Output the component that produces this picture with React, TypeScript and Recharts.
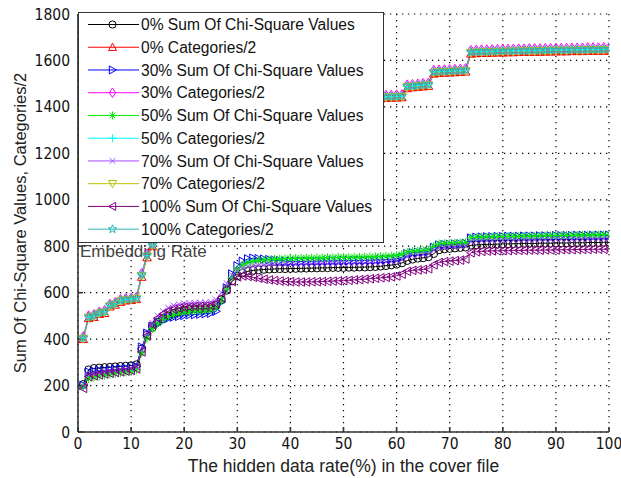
import React from 'react';
import { LineChart, Line, XAxis, YAxis, CartesianGrid, Legend, Label } from 'recharts';

// hidden data rate (%) in the cover file
const hiddenRate = [
  1, 2, 3, 4, 5, 6, 7, 8, 9, 10, 11, 12, 13, 14, 15, 16, 17, 18, 19, 20,
  21, 22, 23, 24, 25, 26, 27, 28, 29, 30, 31, 32, 33, 34, 35, 36, 37, 38, 39, 40,
  41, 42, 43, 44, 45, 46, 47, 48, 49, 50, 51, 52, 53, 54, 55, 56, 57, 58, 59, 60,
  61, 62, 63, 64, 65, 66, 67, 68, 69, 70, 71, 72, 73, 74, 75, 76, 77, 78, 79, 80,
  81, 82, 83, 84, 85, 86, 87, 88, 89, 90, 91, 92, 93, 94, 95, 96, 97, 98, 99, 100,
];

const sumChi0 = [
  205, 268, 274, 276, 278, 279, 281, 283, 284, 286, 290, 358, 418, 450, 472, 488, 500, 510, 518, 525,
  528, 530, 531, 532, 535, 545, 570, 610, 650, 672, 685, 692, 696, 698, 700, 701, 702, 703, 703, 704,
  704, 705, 705, 706, 706, 707, 707, 708, 708, 708, 709, 709, 710, 710, 711, 712, 714, 716, 719, 722,
  728, 738, 744, 748, 750, 754, 768, 784, 788, 790, 792, 794, 796, 804, 806, 807, 808, 808, 809, 810,
  810, 811, 811, 812, 812, 812, 813, 813, 813, 814, 814, 814, 815, 815, 815, 816, 816, 816, 817, 817,
];
const cat0 = [
  400, 490, 495, 508, 512, 540, 548, 560, 566, 568, 572, 668, 752, 800, 836, 874, 914, 952, 984, 1012,
  1032, 1038, 1044, 1050, 1058, 1070, 1114, 1194, 1274, 1316, 1344, 1362, 1376, 1384, 1389, 1392, 1395, 1397, 1399, 1401,
  1403, 1405, 1406, 1408, 1409, 1411, 1412, 1414, 1415, 1417, 1418, 1420, 1421, 1423, 1424, 1426, 1436, 1438, 1439, 1440,
  1441, 1480, 1484, 1486, 1488, 1490, 1543, 1546, 1547, 1548, 1549, 1550, 1552, 1629, 1631, 1632, 1632, 1633, 1634, 1634,
  1635, 1635, 1636, 1636, 1637, 1637, 1637, 1638, 1638, 1639, 1639, 1639, 1640, 1640, 1640, 1641, 1641, 1641, 1642, 1642,
];
const sumChi30 = [
  200, 258, 262, 264, 266, 268, 270, 272, 274, 276, 282, 365, 425, 455, 470, 480, 490, 495, 498, 502,
  505, 506, 508, 510, 512, 520, 560, 620, 680, 715, 735, 745, 748, 746, 744, 742, 740, 738, 736, 735,
  734, 734, 735, 735, 736, 736, 736, 737, 737, 738, 738, 738, 739, 739, 740, 740, 741, 742, 744, 746,
  752, 768, 772, 774, 775, 777, 795, 805, 807, 808, 809, 810, 812, 835, 838, 839, 840, 840, 841, 841,
  842, 842, 842, 843, 843, 843, 844, 844, 844, 845, 845, 845, 845, 846, 846, 846, 846, 847, 847, 847,
];
const cat30 = [
  410, 500, 505, 516, 522, 550, 556, 570, 574, 576, 580, 682, 766, 810, 845, 882, 922, 960, 992, 1020,
  1040, 1046, 1052, 1058, 1066, 1080, 1126, 1206, 1286, 1325, 1352, 1370, 1384, 1392, 1397, 1400, 1403, 1405, 1407, 1409,
  1411, 1413, 1414, 1416, 1417, 1419, 1420, 1422, 1423, 1425, 1426, 1428, 1429, 1431, 1432, 1434, 1448, 1449, 1450, 1451,
  1452, 1494, 1496, 1498, 1500, 1502, 1557, 1558, 1559, 1560, 1561, 1562, 1564, 1643, 1644, 1645, 1645, 1646, 1647, 1647,
  1648, 1648, 1649, 1649, 1650, 1650, 1650, 1651, 1651, 1652, 1652, 1652, 1653, 1653, 1653, 1654, 1654, 1654, 1655, 1655,
];
const sumChi50 = [
  195, 230, 236, 240, 244, 248, 252, 255, 258, 262, 268, 340, 405, 445, 468, 485, 498, 506, 512, 516,
  518, 520, 522, 524, 526, 536, 565, 615, 665, 700, 718, 728, 734, 738, 740, 742, 744, 745, 746, 747,
  748, 748, 749, 749, 750, 750, 751, 751, 752, 752, 752, 753, 753, 754, 754, 755, 756, 757, 758, 760,
  765, 774, 778, 780, 782, 784, 800, 810, 812, 813, 814, 815, 816, 836, 838, 839, 840, 840, 841, 841,
  842, 842, 843, 843, 843, 844, 844, 845, 845, 846, 846, 846, 847, 847, 848, 848, 848, 849, 849, 850,
];
const cat50 = [
  405, 495, 500, 512, 518, 545, 552, 566, 570, 572, 576, 676, 760, 805, 840, 878, 918, 956, 988, 1016,
  1036, 1042, 1048, 1054, 1062, 1075, 1120, 1200, 1280, 1320, 1348, 1366, 1380, 1388, 1393, 1396, 1399, 1401, 1403, 1405,
  1407, 1409, 1410, 1412, 1413, 1415, 1416, 1418, 1419, 1421, 1422, 1424, 1425, 1427, 1428, 1430, 1442, 1443, 1444, 1445,
  1446, 1488, 1490, 1492, 1494, 1496, 1550, 1552, 1553, 1554, 1555, 1556, 1558, 1636, 1637, 1638, 1638, 1639, 1640, 1640,
  1641, 1641, 1642, 1642, 1643, 1643, 1643, 1644, 1644, 1645, 1645, 1645, 1646, 1646, 1646, 1647, 1647, 1647, 1648, 1648,
];
const sumChi70 = [
  198, 245, 250, 254, 258, 261, 264, 267, 270, 273, 280, 355, 425, 470, 500, 520, 535, 545, 550, 553,
  555, 556, 557, 558, 560, 570, 600, 640, 675, 695, 705, 712, 716, 718, 719, 720, 721, 721, 722, 722,
  723, 723, 724, 724, 725, 725, 725, 726, 726, 726, 727, 727, 727, 728, 728, 729, 730, 732, 734, 736,
  742, 756, 760, 762, 764, 766, 782, 794, 796, 798, 799, 800, 802, 820, 822, 823, 824, 824, 825, 825,
  826, 826, 826, 827, 827, 827, 828, 828, 828, 829, 829, 829, 829, 830, 830, 830, 831, 831, 831, 832,
];
const cat70 = [
  402, 493, 497, 510, 515, 542, 550, 563, 568, 570, 574, 672, 756, 803, 838, 876, 916, 954, 986, 1014,
  1034, 1040, 1046, 1052, 1060, 1072, 1117, 1197, 1277, 1318, 1346, 1364, 1378, 1386, 1391, 1394, 1397, 1399, 1401, 1403,
  1405, 1407, 1408, 1410, 1411, 1413, 1414, 1416, 1417, 1419, 1420, 1422, 1423, 1425, 1426, 1428, 1439, 1440, 1441, 1442,
  1443, 1485, 1487, 1489, 1491, 1493, 1547, 1549, 1550, 1551, 1552, 1553, 1555, 1633, 1634, 1635, 1635, 1636, 1637, 1637,
  1638, 1638, 1639, 1639, 1640, 1640, 1640, 1641, 1641, 1642, 1642, 1642, 1643, 1643, 1643, 1644, 1644, 1644, 1645, 1645,
];
const sumChi100 = [
  188, 238, 242, 246, 250, 253, 256, 259, 262, 265, 272, 345, 415, 462, 490, 508, 520, 528, 533, 536,
  538, 540, 541, 542, 544, 552, 578, 615, 648, 668, 672, 670, 666, 662, 658, 655, 652, 650, 648, 647,
  646, 646, 646, 647, 647, 648, 649, 650, 651, 652, 653, 655, 656, 658, 660, 662, 664, 666, 668, 672,
  680, 692, 696, 698, 700, 703, 720, 730, 734, 736, 738, 740, 745, 772, 776, 778, 779, 780, 780, 781,
  781, 782, 782, 782, 783, 783, 783, 784, 784, 784, 785, 785, 785, 786, 786, 786, 787, 787, 787, 788,
];
const cat100 = [
  406, 496, 501, 513, 519, 546, 553, 567, 571, 573, 577, 678, 762, 806, 842, 880, 920, 958, 990, 1018,
  1038, 1044, 1050, 1056, 1064, 1077, 1122, 1202, 1282, 1322, 1350, 1368, 1382, 1390, 1395, 1398, 1401, 1403, 1405, 1407,
  1409, 1411, 1412, 1414, 1415, 1417, 1418, 1420, 1421, 1423, 1424, 1426, 1427, 1429, 1430, 1432, 1443, 1444, 1445, 1446,
  1447, 1489, 1491, 1493, 1495, 1497, 1551, 1553, 1554, 1555, 1556, 1557, 1559, 1637, 1638, 1639, 1639, 1640, 1641, 1641,
  1642, 1642, 1643, 1643, 1644, 1644, 1644, 1645, 1645, 1646, 1646, 1646, 1647, 1647, 1647, 1648, 1648, 1648, 1649, 1649,
];

const xTicks = [0, 10, 20, 30, 40, 50, 60, 70, 80, 90, 100];
const yTicks = [0, 200, 400, 600, 800, 1000, 1200, 1400, 1600, 1800];

const seriesNames = [
  '0% Sum Of Chi-Square Values',
  '0% Categories/2',
  '30% Sum Of Chi-Square Values',
  '30% Categories/2',
  '50% Sum Of Chi-Square Values',
  '50% Categories/2',
  '70% Sum Of Chi-Square Values',
  '70% Categories/2',
  '100% Sum Of Chi-Square Values',
  '100% Categories/2',
];
const seriesValues = [sumChi0, cat0, sumChi30, cat30, sumChi50, cat50, sumChi70, cat70, sumChi100, cat100];
const seriesKeys = ['s0', 'c0', 's30', 'c30', 's50', 'c50', 's70', 'c70', 's100', 'c100'];
const seriesColors = ['#000000', '#ff0000', '#0000ff', '#ff00ff', '#00ee00', '#00ffff', '#a64dff', '#bfbf00', '#800080', '#2fb3b3'];
const seriesShapes = ['circle', 'triUp', 'triRight', 'diamond', 'asterisk', 'plus', 'cross', 'triDown', 'triLeft', 'star'];

const rows = hiddenRate.map((x, i) => {
  const r: Record<string, number> = { x };
  seriesKeys.forEach((k, j) => {
    r[k] = seriesValues[j][i];
  });
  return r;
});

const FONT = '"Liberation Sans", Arial, sans-serif';
const NARROW = '"Liberation Sans Narrow", "Arial Narrow", "DejaVu Sans Condensed", sans-serif';

function Marker({ shape, cx, cy, color, r = 4.3 }: { shape: string; cx: number; cy: number; color: string; r?: number }) {
  const common = { fill: 'none', stroke: color, strokeWidth: 1 };
  switch (shape) {
    case 'circle':
      return <circle cx={cx} cy={cy} r={r * 0.9} {...common} />;
    case 'triUp':
      return <polygon points={`${cx},${cy - r} ${cx + r},${cy + r * 0.8} ${cx - r},${cy + r * 0.8}`} {...common} />;
    case 'triDown':
      return <polygon points={`${cx},${cy + r} ${cx + r},${cy - r * 0.8} ${cx - r},${cy - r * 0.8}`} {...common} />;
    case 'triRight':
      return <polygon points={`${cx + r},${cy} ${cx - r * 0.8},${cy - r} ${cx - r * 0.8},${cy + r}`} {...common} />;
    case 'triLeft':
      return <polygon points={`${cx - r},${cy} ${cx + r * 0.8},${cy - r} ${cx + r * 0.8},${cy + r}`} {...common} />;
    case 'diamond':
      return <polygon points={`${cx},${cy - r * 1.2} ${cx + r * 0.8},${cy} ${cx},${cy + r * 1.2} ${cx - r * 0.8},${cy}`} {...common} />;
    case 'plus':
      return <path d={`M${cx - r},${cy}H${cx + r}M${cx},${cy - r}V${cy + r}`} {...common} />;
    case 'cross': {
      const d = r * 0.7;
      return <path d={`M${cx - d},${cy - d}L${cx + d},${cy + d}M${cx - d},${cy + d}L${cx + d},${cy - d}`} {...common} />;
    }
    case 'asterisk': {
      const d = r * 0.7;
      return (
        <path
          d={`M${cx - r},${cy}H${cx + r}M${cx},${cy - r}V${cy + r}M${cx - d},${cy - d}L${cx + d},${cy + d}M${cx - d},${cy + d}L${cx + d},${cy - d}`}
          {...common}
        />
      );
    }
    case 'star': {
      const pts: string[] = [];
      for (let i = 0; i < 10; i++) {
        const rad = i % 2 === 0 ? r * 1.1 : r * 0.45;
        const a = -Math.PI / 2 + (i * Math.PI) / 5;
        pts.push(`${cx + rad * Math.cos(a)},${cy + rad * Math.sin(a)}`);
      }
      return <polygon points={pts.join(' ')} {...common} />;
    }
    default:
      return null;
  }
}

const makeDot = (shape: string, color: string) => (props: any) => {
  const { cx, cy, key, index } = props;
  if (cx == null || cy == null) return <g key={key ?? index} />;
  return (
    <g key={key ?? `${shape}-${index}`}>
      <Marker shape={shape} cx={cx} cy={cy} color={color} />
    </g>
  );
};

const LegendBox = () => (
  <div
    style={{
      width: 306,
      height: 231,
      background: '#ffffff',
      border: '1px solid #333',
      boxSizing: 'border-box',
    }}
  >
    <svg width={304} height={229} style={{ display: 'block' }}>
      {seriesNames.map((name, i) => {
        const y = 11.5 + i * 22.74;
        return (
          <g key={name}>
            <line x1={9} x2={60} y1={y} y2={y} stroke={seriesColors[i]} strokeWidth={1} />
            <Marker shape={seriesShapes[i]} cx={33.5} cy={y} color={seriesColors[i]} r={4} />
            <text x={62} y={y} dy="0.36em" fontSize={15.6} fontFamily={FONT} fill="#111">
              {name}
            </text>
          </g>
        );
      })}
    </svg>
  </div>
);

export default function App() {
  return (
    <div style={{ position: 'absolute', left: 0, top: 0, width: 621, height: 478, background: '#ffffff' }}>
      <div
        style={{
          position: 'absolute',
          left: 80,
          top: 243,
          fontFamily: FONT,
          fontSize: 17,
          lineHeight: '17px',
          color: '#444',
          whiteSpace: 'nowrap',
        }}
      >
        Embedding Rate
      </div>
      <LineChart width={621} height={478} data={rows} margin={{ top: 14, right: 12, bottom: 0, left: 0 }}>
        <CartesianGrid stroke="#000" strokeDasharray="1.3 4.7" strokeWidth={1.2} />
        <XAxis
          dataKey="x"
          type="number"
          domain={[0, 100]}
          ticks={xTicks}
          allowDataOverflow
          height={46}
          stroke="#333"
          strokeWidth={1.6}
          tickSize={-5}
          tickMargin={11}
          tick={{ fill: '#111', fontSize: 15.5, fontFamily: NARROW }}
        >
          <Label
            value="The hidden data rate(%) in the cover file"
            position="insideBottom"
            offset={6}
            style={{ fill: '#222', fontSize: 17.5, fontFamily: FONT }}
          />
        </XAxis>
        <XAxis
          xAxisId="top"
          orientation="top"
          type="number"
          domain={[0, 100]}
          ticks={xTicks}
          allowDataOverflow
          height={0}
          stroke="#333"
          strokeWidth={1.6}
          tickSize={-5}
          tickFormatter={() => ''}
        />
        <YAxis
          type="number"
          domain={[0, 1800]}
          ticks={yTicks}
          allowDataOverflow
          width={78}
          stroke="#333"
          strokeWidth={1.6}
          tickSize={-5}
          tickMargin={13}
          tick={{ fill: '#111', fontSize: 15.5, fontFamily: NARROW }}
        >
          <Label
            value="Sum Of Chi-Square Values, Categories/2"
            angle={-90}
            position="insideLeft"
            offset={20}
            style={{ fill: '#222', fontSize: 16.5, fontFamily: FONT, textAnchor: 'middle' }}
          />
        </YAxis>
        <YAxis
          yAxisId="right"
          orientation="right"
          type="number"
          domain={[0, 1800]}
          ticks={yTicks}
          allowDataOverflow
          width={0}
          stroke="#333"
          strokeWidth={1.6}
          tickSize={-5}
          tickFormatter={() => ''}
        />
        {seriesKeys.map((k, i) => (
          <Line
            key={k}
            type="linear"
            dataKey={k}
            name={seriesNames[i]}
            stroke={seriesColors[i]}
            strokeWidth={1}
            dot={makeDot(seriesShapes[i], seriesColors[i])}
            activeDot={false}
            isAnimationActive={false}
          />
        ))}
        <Legend
          layout="vertical"
          align="center"
          verticalAlign="middle"
          wrapperStyle={{ left: 78, top: 12, width: 306, height: 231 }}
          content={() => <LegendBox />}
        />
      </LineChart>
    </div>
  );
}
